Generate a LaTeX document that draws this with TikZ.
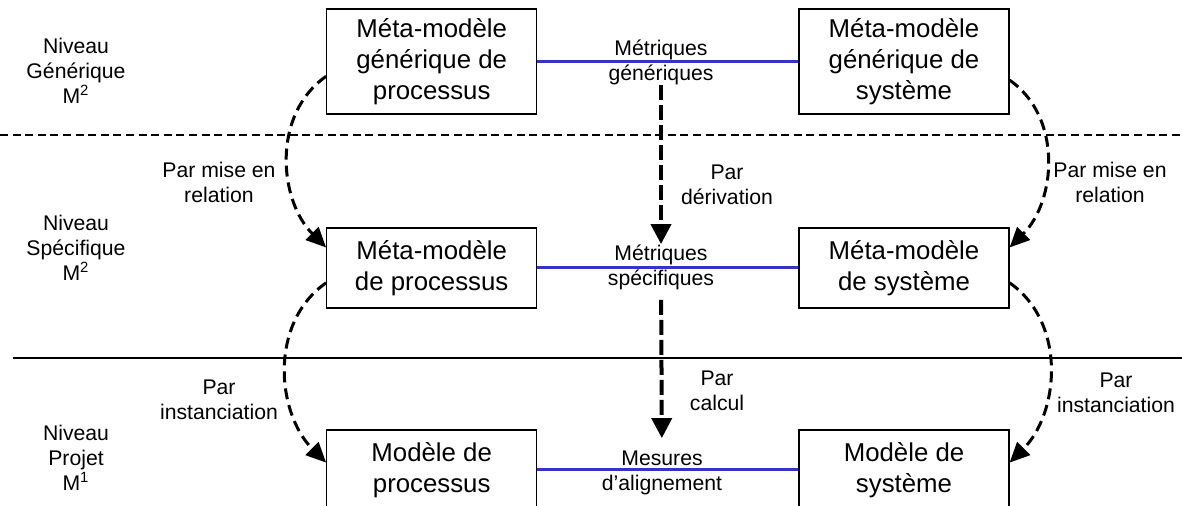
\documentclass[tikz,border=0pt]{standalone}
\usepackage{fontspec}
\setmainfont{Liberation Sans}
\usetikzlibrary{arrows.meta}
\definecolor{lienbleu}{RGB}{51,51,204}

\tikzset{modele/.style={draw,line width=0.6pt,minimum width=105pt,inner sep=0pt,align=center,font=\fontsize{12.9}{15.5}\selectfont,execute at begin node={\rule{0pt}{16.5pt}}}}
\tikzset{etiquette/.style={align=center,inner sep=0pt,font=\fontsize{10.6}{12.5}\selectfont}}
\tikzset{lien/.style={lienbleu,line width=1.5pt}}
\tikzset{derive/.style={-{Triangle[length=10pt,width=10pt]},line width=2pt,dash pattern=on 7.5pt off 2.5pt}}
\tikzset{relie/.style={-{Triangle[length=10pt,width=9pt]},line width=1.5pt,dash pattern=on 5.5pt off 3pt}}

\begin{document}
\begin{tikzpicture}[x=0.5pt,y=-0.5pt]
        \clip (0,0) rectangle (1182,506);
        % separation des niveaux
        \draw[line width=0.6pt,dash pattern=on 4pt off 2.3pt] (0,135) -- (1182,135);
        \draw[line width=0.6pt] (13,358) -- (1182,358);
        % niveaux
        \node[etiquette] (ngen) at (76,71) {Niveau\\Générique\\M\textsuperscript{2}};
        \node[etiquette] (nspec) at (76,248) {Niveau\\Spécifique\\M\textsuperscript{2}};
        \node[etiquette] (nproj) at (76,458) {Niveau\\Projet\\M\textsuperscript{1}};
        
        % les modeles
        \node[modele,minimum height=52.5pt] (gproc) at (431.7,61.5) {Méta-modèle\\générique de\\processus};
        \node[modele,minimum height=52.5pt] (gsys) at (904,61.5) {Méta-modèle\\générique de\\système};
        \node[modele,minimum height=40pt] (sproc) at (431.7,268) {Méta-modèle\\de processus};
        \node[modele,minimum height=40pt] (ssys) at (904,268) {Méta-modèle\\de système};
        \node[modele,minimum height=40pt] (proc) at (431.7,470) {Modèle de\\processus};
        \node[modele,minimum height=40pt] (sys) at (904,470) {Modèle de\\système};
        
        \draw[lien] (gproc) -- (gsys);
        \draw[lien] (sproc) -- (ssys);
        \draw[lien] (proc) -- (sys);
        
        % metriques
        \node[etiquette] (mgen) at (661,62.5) {Métriques\\génériques};
        \node[etiquette] (mspec) at (661,267) {Métriques\\spécifiques};
        \node[etiquette] (mesures) at (662,472.5) {Mesures\\d'alignement};
        \draw[derive] (mgen) -- (mspec);
        \node[etiquette] (deriv) at (727,185) {Par\\dérivation};
        \draw[derive,shorten <=5pt,shorten >=6pt] (mspec) -- (mesures);
        \node[etiquette] (calc) at (717,391) {Par\\calcul};
        
        % mise en relation et instanciation
        \draw[relie] (gproc.188) to[out=215,in=135] (sproc.169);
        \node[etiquette] (relg) at (219,182.5) {Par mise en\\relation};
        \draw[relie] (gsys.350) to[out=-35,in=45] (ssys.11);
        \node[etiquette] (reld) at (1110,182.5) {Par mise en\\relation};
        \draw[relie] (sproc.188) to[out=215,in=135] (proc.176);
        \node[etiquette] (instg) at (219,399.5) {Par\\instanciation};
        \draw[relie] (ssys.352) to[out=-35,in=45] (sys.4);
        \node[etiquette] (instd) at (1116,392.5) {Par\\instanciation};
    \end{tikzpicture}
\end{document}
